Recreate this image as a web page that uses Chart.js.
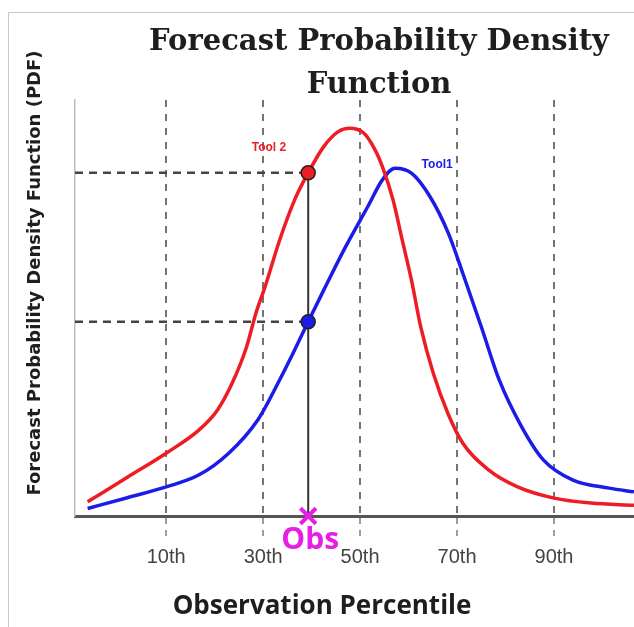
<!DOCTYPE html>
<html>
<head>
<meta charset="utf-8">
<script src="https://cdn.jsdelivr.net/npm/chart.js@4.4.1/dist/chart.umd.min.js"></script>
<style>
  html, body { margin: 0; padding: 0; background: #fff; }
  canvas { display: block; }
</style>
</head>
<body>
<canvas id="pdf-chart" width="634" height="627"></canvas>
<script>
// observation percentile (x) and density (y, arbitrary units)
const tool2_pct = [-6.2, 2, 10, 16.8, 20.6, 23.6, 26.6, 28.5, 30.4, 33.4, 36.5, 39.3, 42.5, 45.5, 47.8, 50.8, 53.1, 54.6, 56.8, 58.7, 60.6, 62.5, 65.1, 68.1, 71.2, 76.5, 82.5, 90, 97.6, 106.5];
const tool2_pdf = [3.4, 9.3, 15.1, 20.7, 25.5, 31.9, 40.7, 48.7, 55.1, 66.3, 76, 82.5, 88.8, 92.4, 93.2, 92, 88, 84, 76, 66.3, 56.7, 45.5, 34.3, 24.7, 17.5, 11.1, 7, 4.3, 3.1, 2.6];

const tool1_pct = [-6.2, 2, 10, 16.8, 22.9, 28.9, 33.4, 36.5, 39.3, 42.5, 47, 51.6, 54.6, 57.2, 60.6, 64.4, 68.2, 71.2, 75, 78.7, 83.3, 87.8, 93.8, 101.4, 106.5];
const tool1_pdf = [1.8, 4.4, 7, 9.9, 15.1, 23.1, 32.7, 39.9, 46.7, 54.3, 64.7, 74.4, 80.8, 83.6, 82.4, 76.8, 68, 58.3, 45.5, 32.7, 21.5, 13.5, 8.7, 6.7, 5.8];

const obs_pct = 39.3;
const obs_tool2 = 82.5;
const obs_tool1 = 46.7;

const tick_values = [10, 30, 50, 70, 90];
const tick_labels = ["10th", "30th", "50th", "70th", "90th"];
const x_min = -8.8;
const x_max = 106.5;

const RED = "#ee1c24";
const BLUE = "#1c1ce8";
const MAGENTA = "#e61ee6";

const toPoints = (xs, ys) => xs.map((x, i) => ({ x: x, y: ys[i] }));

const textPlugin = {
  id: "texts",
  beforeDraw(chart) {
    const ctx = chart.ctx;
    ctx.save();
    ctx.fillStyle = "#fff";
    ctx.fillRect(0, 0, chart.width, chart.height);
    ctx.strokeStyle = "#c8c8c8";
    ctx.lineWidth = 1;
    ctx.strokeRect(8.5, 12.5, 700, 700);
    ctx.restore();
  },
  afterDraw(chart) {
    const ctx = chart.ctx;
    const xs = chart.scales.x;
    const ys = chart.scales.y;
    ctx.save();
    ctx.textAlign = "center";
    ctx.textBaseline = "middle";

    ctx.fillStyle = "#1e1e1e";
    ctx.font = "bold 29px 'DejaVu Serif'";
    ctx.fillText("Forecast Probability Density", 379, 42);
    ctx.fillText("Function", 379, 85);

    ctx.font = "bold 26px 'Open Sans'";
    ctx.fillText("Observation Percentile", 322, 607);

    ctx.save();
    ctx.translate(35, 273);
    ctx.rotate(-Math.PI / 2);
    ctx.font = "bold 18px 'DejaVu Sans'";
    ctx.fillText("Forecast Probability Density Function (PDF)", 0, 0);
    ctx.restore();

    ctx.fillStyle = MAGENTA;
    ctx.font = "bold 30px 'Open Sans'";
    ctx.fillText("Obs", xs.getPixelForValue(obs_pct) + 2, ys.bottom + 24);

    ctx.font = "bold 12px 'Liberation Sans'";
    ctx.fillStyle = RED;
    ctx.fillText("Tool 2", xs.getPixelForValue(31.2), ys.getPixelForValue(88.5));
    ctx.fillStyle = BLUE;
    ctx.fillText("Tool1", xs.getPixelForValue(65.9), ys.getPixelForValue(84.4));
    ctx.restore();
  },
};

new Chart(document.getElementById("pdf-chart"), {
  type: "line",
  data: {
    datasets: [
      {
        label: "guide tool 2",
        data: [{ x: x_min, y: obs_tool2 }, { x: obs_pct, y: obs_tool2 }],
        borderColor: "#444",
        borderWidth: 2.5,
        borderDash: [8, 6],
        pointRadius: 0,
        order: 10,
      },
      {
        label: "guide tool 1",
        data: [{ x: x_min, y: obs_tool1 }, { x: obs_pct, y: obs_tool1 }],
        borderColor: "#444",
        borderWidth: 2.5,
        borderDash: [8, 6],
        pointRadius: 0,
        order: 9,
      },
      {
        label: "Tool 1",
        data: toPoints(tool1_pct, tool1_pdf),
        borderColor: BLUE,
        borderWidth: 3.5,
        pointRadius: 0,
        cubicInterpolationMode: "monotone",
        order: 6,
      },
      {
        label: "Tool 2",
        data: toPoints(tool2_pct, tool2_pdf),
        borderColor: RED,
        borderWidth: 3.5,
        pointRadius: 0,
        cubicInterpolationMode: "monotone",
        order: 5,
      },
      {
        label: "obs line",
        data: [{ x: obs_pct, y: 0 }, { x: obs_pct, y: obs_tool2 }],
        borderColor: "#333",
        borderWidth: 2,
        pointRadius: 0,
        order: 4,
      },
      {
        label: "tool 2 at obs",
        data: [{ x: obs_pct, y: obs_tool2 }],
        showLine: false,
        pointRadius: 7,
        pointBackgroundColor: RED,
        pointBorderColor: "#222",
        pointBorderWidth: 1.5,
        order: 2,
      },
      {
        label: "tool 1 at obs",
        data: [{ x: obs_pct, y: obs_tool1 }],
        showLine: false,
        pointRadius: 7,
        pointBackgroundColor: BLUE,
        pointBorderColor: "#222",
        pointBorderWidth: 1.5,
        order: 2,
      },
      {
        label: "obs",
        data: [{ x: obs_pct, y: 0 }],
        showLine: false,
        pointStyle: "crossRot",
        pointRadius: 11,
        pointBorderColor: MAGENTA,
        pointBorderWidth: 4,
        clip: false,
        order: 1,
      },
    ],
  },
  options: {
    responsive: false,
    animation: false,
    events: [],
    layout: { autoPadding: false, padding: { left: 75, top: 100, right: 0, bottom: 0 } },
    plugins: {
      legend: { display: false },
      tooltip: { enabled: false },
    },
    scales: {
      x: {
        type: "linear",
        min: x_min,
        max: x_max,
        afterBuildTicks: (s) => {
          s.ticks = tick_values.map((v) => ({ value: v }));
        },
        afterFit: (s) => {
          s.height = 111;
        },
        ticks: {
          callback: (v) => tick_labels[tick_values.indexOf(v)],
          color: "#444",
          font: { size: 20, family: "Liberation Sans" },
          padding: 7,
          maxRotation: 0,
          autoSkip: false,
        },
        grid: {
          color: "rgba(70,70,70,0.75)",
          lineWidth: 2,
          tickLength: 22,
          tickColor: "rgba(90,90,90,0.6)",
          tickWidth: 2,
          tickBorderDash: [6, 6],
        },
        border: { color: "#555", width: 3, dash: [7, 7] },
      },
      y: {
        min: 0,
        max: 100,
        afterFit: (s) => {
          s.width = 0;
        },
        ticks: { display: false },
        grid: { display: false, drawTicks: false },
        border: { color: "#bdbdbd", width: 1.5 },
      },
    },
  },
  plugins: [textPlugin],
});
</script>
</body>
</html>
